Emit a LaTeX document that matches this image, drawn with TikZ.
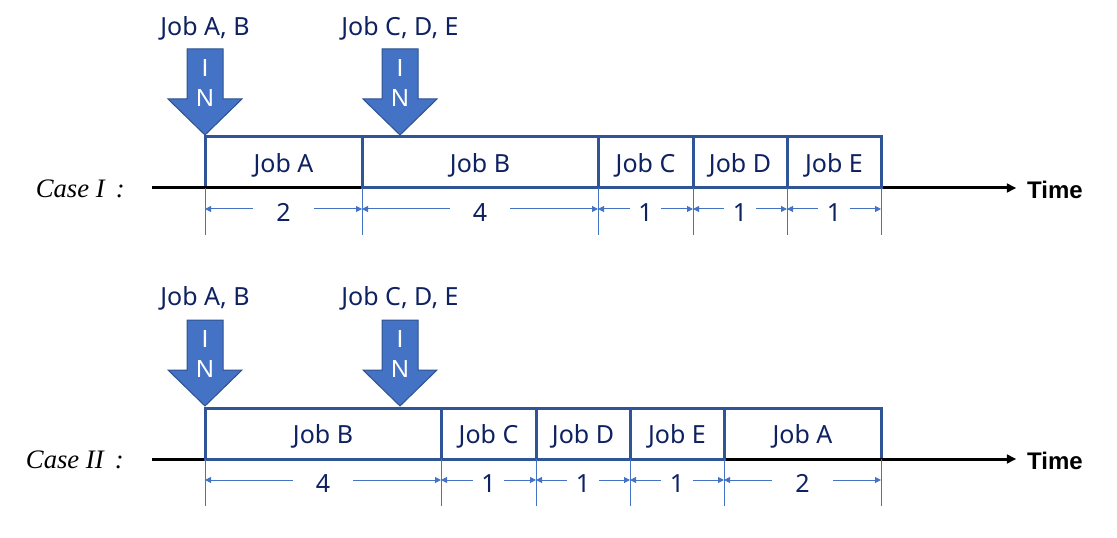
\documentclass[tikz,border=0pt]{standalone}
\usepackage{fontspec}
\setmainfont{Noto Sans}
\newfontfamily\casefont{Liberation Serif}
\newfontfamily\plainsans{Liberation Sans}
\usetikzlibrary{positioning,arrows.meta}

\definecolor{boxblue}{HTML}{2F5597}
\definecolor{arrowblue}{HTML}{4472C4}
\definecolor{arrowedge}{HTML}{2F528F}
\definecolor{navy}{HTML}{0E2160}

\newcommand\pxu{0.75pt}
\newcommand\jobfont{\fontsize{18.75}{22}\selectfont}
\newcommand\infont{\plainsans\fontsize{18.5}{22}\selectfont}
\newcommand\timefont{\plainsans\fontsize{18}{20}\selectfont\bfseries}
\newcommand\casestyle{\casefont\itshape\fontsize{20}{22}\selectfont}

\tikzset{
  inarrow/.pic={
    \filldraw[fill=arrowblue, draw=arrowedge, line width=0.75pt]
      (-18,-86) -- (-18,-36) -- (-37,-36) -- (0,0) -- (37,-36) -- (18,-36) -- (18,-86) -- cycle;
    \node[intext] (txt) at (0,-52) {I\\N};
  }
}

\begin{document}
\begin{tikzpicture}[x=0.75pt, y=-0.75pt,
    jobbox/.style={draw=boxblue, line width=2.25pt, inner sep=0pt, outer sep=0pt,
      minimum height={51*\pxu}, text=navy, font=\jobfont, text height=15.6pt, text depth=0pt},
    intext/.style={text=white, font=\infont, align=center, inner sep=0pt},
    joblabel/.style={text=navy, font=\jobfont, inner sep=0pt},
    dimlabel/.style={text=navy, font=\jobfont, inner sep=0pt, text height=18.5pt, text depth=0pt},
    dimline/.style={draw=arrowblue, line width=0.75pt, -{Triangle[length=4.5pt,width=4.5pt]}},
    extline/.style={draw=arrowblue, line width=0.75pt},
    axis/.style={line width=2.25pt, -{Triangle[length=7pt,width=6.5pt]}, shorten >=8pt},
    timelabel/.style={font=\timefont, inner sep=0pt},
    caselabel/.style={font=\casestyle, inner sep=0pt, anchor=east}]

  \useasboundingbox (0,0) rectangle (1117,538);

  % Case I
  \node[caselabel] (case1) at (125,189) {Case I\, :};
  \node[jobbox, minimum width={157*\pxu}, anchor=north west] (ja1) at (205,137) {Job A};
  \coordinate (axs1) at (152,188);
  \node[timelabel] (time1) at (1055,190) {Time};
  \draw[axis] (axs1) -- (axs1 -| time1.west);
  \node[jobbox, minimum width={236*\pxu}, right=0pt of ja1] (jb1) {Job B};
  \node[jobbox, minimum width={95*\pxu}, right=0pt of jb1] (jc1) {Job C};
  \node[jobbox, minimum width={94*\pxu}, right=0pt of jc1] (jd1) {Job D};
  \node[jobbox, minimum width={94*\pxu}, right=0pt of jd1] (je1) {Job E};

  \pic (inab1) at (205,135) {inarrow};
  \pic (incde1) at (400,135) {inarrow};
  \node[joblabel] (lab1) at (205,28) {Job A, B};
  \node[joblabel] (lcde1) at (400,28) {Job C, D, E};

  % Case II
  \node[caselabel] (case2) at (124,460) {Case II\, :};
  \node[jobbox, minimum width={157*\pxu}, anchor=north west] (ja2) at (724,408) {Job A};
  \coordinate (axs2) at (152,459);
  \node[timelabel] (time2) at (1055,461) {Time};
  \draw[axis] (axs2) -- (axs2 -| time2.west);
  \node[jobbox, minimum width={236*\pxu}, anchor=north west] (jb2) at (205,408) {Job B};
  \node[jobbox, minimum width={95*\pxu}, right=0pt of jb2] (jc2) {Job C};
  \node[jobbox, minimum width={94*\pxu}, right=0pt of jc2] (jd2) {Job D};
  \node[jobbox, minimum width={94*\pxu}, right=0pt of jd2] (je2) {Job E};

  \pic (inab2) at (205,406) {inarrow};
  \pic (incde2) at (400,406) {inarrow};
  \node[joblabel] (lab2) at (205,298) {Job A, B};
  \node[joblabel] (lcde2) at (400,298) {Job C, D, E};

  % durations
  \foreach \b/\n/\g in {ja1/2/60, jb1/4/60, jc1/1/31, jd1/1/31, je1/1/31,
                        jb2/4/60, jc2/1/31, jd2/1/31, je2/1/31, ja2/2/60}{
    \draw[extline] (\b.south west) -- ++(0,47);
    \node[dimlabel, minimum width={\g*\pxu}] (dim\b) at ([yshift={-21*\pxu}]\b.south) {\n};
    \draw[dimline] (dim\b.west) -- (dim\b.west -| \b.south west);
    \draw[dimline] (dim\b.east) -- (dim\b.east -| \b.south east);
  }
  \draw[extline] (je1.south east) -- ++(0,47);
  \draw[extline] (ja2.south east) -- ++(0,47);
\end{tikzpicture}
\end{document}
